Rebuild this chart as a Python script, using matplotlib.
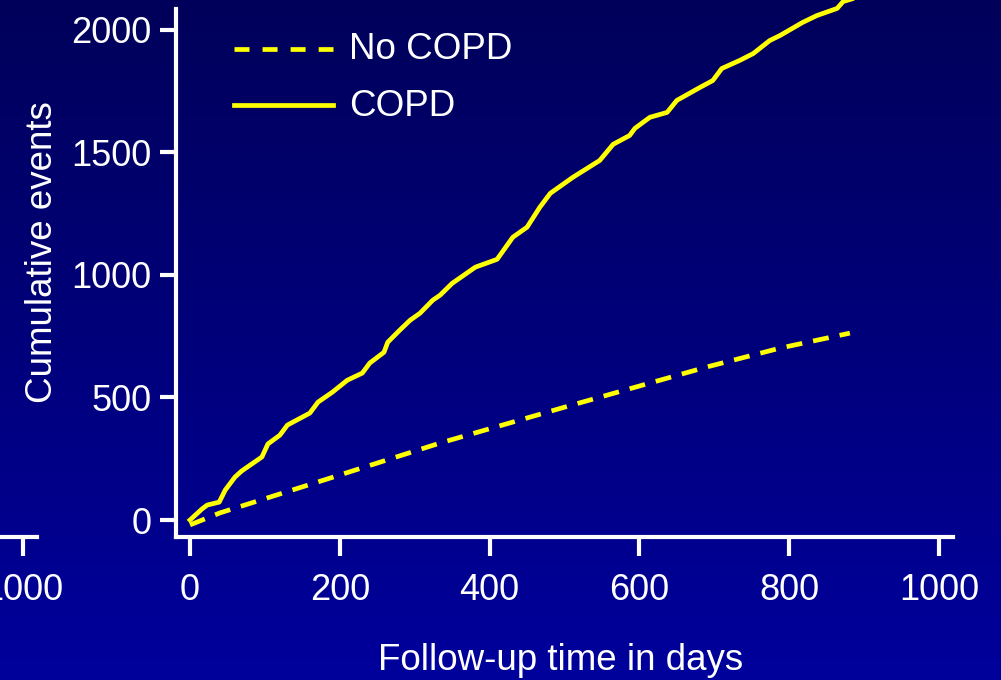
import numpy as np
import matplotlib
matplotlib.use("Agg")
import matplotlib.pyplot as plt
from matplotlib.lines import Line2D

plt.rcParams['font.family'] = ['Liberation Sans', 'DejaVu Sans']
plt.rcParams['lines.scale_dashes'] = False

# Cumulative events by follow-up day
days_copd = [0, 16, 23, 39, 47, 60, 69, 96, 104, 120, 130, 160, 171, 190, 210,
             230, 240, 259, 264, 280, 294, 307, 324, 334, 350, 381, 410, 431,
             450, 467, 481, 511, 547, 565, 587, 594, 614, 637, 650, 681, 698,
             710, 734, 752, 774, 788, 818, 837, 864, 872, 884]
events_copd = [0, 45, 61, 73, 122, 175, 200, 257, 310, 346, 387, 436, 481, 521,
               570, 599, 640, 684, 725, 774, 815, 843, 896, 917, 965, 1031,
               1063, 1153, 1194, 1275, 1332, 1397, 1466, 1532, 1568, 1597, 1642,
               1662, 1711, 1764, 1792, 1841, 1874, 1902, 1955, 1976, 2029, 2057,
               2086, 2114, 2125]
days_no_copd = [0, 40, 183, 334, 500, 690, 788, 881]
events_no_copd = [-20, 29, 167, 314, 460, 624, 701, 762]

x_ticks = [0, 200, 400, 600, 800, 1000]
y_ticks = [0, 500, 1000, 1500, 2000]
series_labels = ["No COPD", "COPD"]
x_title = "Follow-up time in days"
y_title = "Cumulative events"

W, H = 1001, 680
fig = plt.figure(figsize=(W / 100, H / 100), dpi=100)


def px_rect(x0, y_top, x1, y_bot):
    return [x0 / W, 1 - y_bot / H, (x1 - x0) / W, (y_bot - y_top) / H]


# vertical navy-to-blue backdrop
bg = fig.add_axes([0, 0, 1, 1], zorder=-10)
top_c = np.array([0, 0, 0x5a]) / 255
bot_c = np.array([0, 0, 0x9c]) / 255
t = np.linspace(0, 1, 256)[:, None, None]
bg.imshow(top_c + (bot_c - top_c) * t, aspect='auto', extent=[0, 1, 0, 1],
          origin='upper')
bg.axis('off')

XLIM = (-18.7, 1018.7)
YLIM = (-69.3, 2083.6)


def style_axes(a, show_left=True):
    a.set_facecolor('none')
    for side in ('top', 'right'):
        a.spines[side].set_visible(False)
    a.spines['left'].set_visible(show_left)
    for sp in a.spines.values():
        sp.set_color('white')
        sp.set_linewidth(3)
        sp.set_capstyle('projecting')
    a.tick_params(axis='x', colors='white', length=13.5, width=3, pad=12.5,
                  labelsize=26)
    a.tick_params(axis='y', colors='white', length=11.5, width=3, pad=6,
                  labelsize=26)
    a.set_xlim(*XLIM)
    a.set_xticks(x_ticks)
    a.set_xticklabels([str(v) for v in x_ticks])


# neighbouring panel, only its right end is in view
ax_prev = fig.add_axes(px_rect(37 - 777, 9, 37, 537))
style_axes(ax_prev, show_left=False)
ax_prev.set_yticks([])

ax = fig.add_axes(px_rect(176, 9, 953, 537))
style_axes(ax)
ax.set_ylim(*YLIM)
ax.set_yticks(y_ticks)
ax.set_yticklabels([str(v) for v in y_ticks])

yellow = '#ffff00'
ax.plot(days_no_copd, events_no_copd, color=yellow, lw=3.4, dashes=(11.5, 8),
        dash_capstyle='butt', clip_on=False)
ax.plot(days_copd, events_copd, color=yellow, lw=3.4, clip_on=False,
        solid_joinstyle='round')

ax.set_xlabel(x_title, fontsize=26.5, color='white')
ax.xaxis.label.set_va('baseline')
ax.xaxis.set_label_coords(561 / W, 1 - 670 / H, transform=fig.transFigure)
ax.set_ylabel(y_title, fontsize=26.5, color='white')
ax.yaxis.label.set_va('baseline')
ax.yaxis.set_label_coords(52 / W, 1 - 252 / H, transform=fig.transFigure)

# key
for (ly, by), lab, dash in zip([(49, 59), (105, 116)], series_labels,
                               [True, False]):
    kw = dict(dashes=(10.8, 9.4), dash_capstyle='butt') if dash else {}
    fig.add_artist(Line2D([234 / W, 333 / W], [1 - ly / H] * 2,
                          transform=fig.transFigure, color=yellow, lw=3.4, **kw))
    fig.text(349 / W, 1 - by / H, lab, fontsize=26.5, color='white',
             ha='left', va='baseline')

fig.savefig('out.png', dpi=100)
